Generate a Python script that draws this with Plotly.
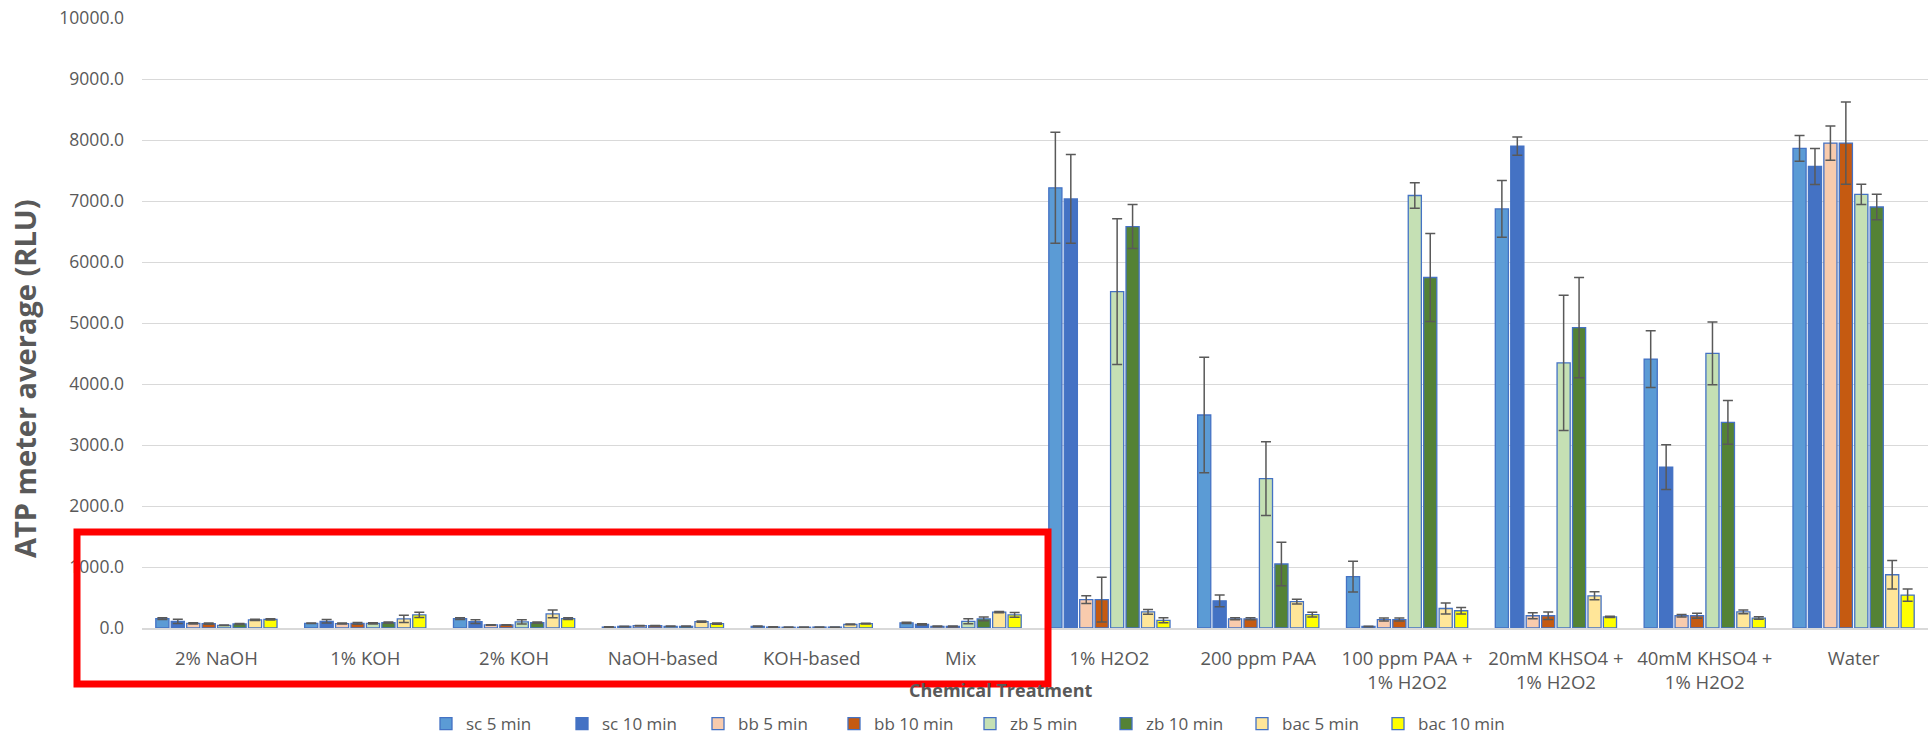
import plotly.graph_objects as go

categories = ["2% NaOH", "1% KOH", "2% KOH", "NaOH-based", "KOH-based", "Mix",
              "1% H2O2", "200 ppm PAA", "100 ppm PAA +<br>1% H2O2",
              "20mM KHSO4 +<br>1% H2O2", "40mM KHSO4 +<br>1% H2O2", "Water"]

series_names = ["sc 5 min", "sc 10 min", "bb 5 min", "bb 10 min",
                "zb 5 min", "zb 10 min", "bac 5 min", "bac 10 min"]

sc5 = [154, 77, 154, 15, 27, 83, 7216, 3492, 842, 6870, 4409, 7863]
sc5_err = [15, 5, 15, 5, 5, 10, 910, 948, 251, 465, 465, 210]
sc10 = [110, 110, 105, 25, 15, 60, 7034, 446, 25, 7900, 2638, 7567]
sc10_err = [35, 30, 30, 5, 5, 10, 728, 97, 5, 150, 367, 295]
bb5 = [77, 72, 50, 38, 12, 27, 465, 151, 138, 201, 201, 7950]
bb5_err = [10, 8, 5, 5, 3, 5, 63, 15, 25, 50, 20, 280]
bb10 = [72, 77, 50, 38, 12, 27, 465, 151, 138, 201, 201, 7950]
bb10_err = [10, 15, 5, 5, 3, 5, 365, 15, 25, 60, 40, 675]
zb5 = [44, 77, 99, 28, 15, 110, 5514, 2449, 7090, 4346, 4503, 7109]
zb5_err = [5, 10, 35, 5, 3, 40, 1196, 603, 210, 1108, 515, 166]
zb10 = [66, 88, 88, 28, 15, 149, 6581, 1049, 5746, 4924, 3372, 6902]
zb10_err = [8, 10, 10, 5, 3, 30, 361, 358, 722, 823, 358, 210]
bac5 = [132, 149, 231, 105, 60, 259, 264, 433, 320, 528, 264, 873]
bac5_err = [10, 60, 65, 10, 5, 10, 38, 38, 91, 66, 31, 232]
bac10 = [143, 215, 154, 72, 72, 215, 126, 220, 283, 182, 163, 540]
bac10_err = [10, 42, 15, 10, 5, 40, 40, 40, 55, 10, 20, 100]

values = [sc5, sc10, bb5, bb10, zb5, zb10, bac5, bac10]
errors = [sc5_err, sc10_err, bb5_err, bb10_err, zb5_err, zb10_err, bac5_err, bac10_err]
colors = ["#5B9BD5", "#4472C4", "#F8CBAD", "#C55A11",
          "#C5E0B4", "#548235", "#FFE699", "#FFFF00"]

TXT = "#595959"
FONT = "Open Sans"

W, H = 1932, 734
L, R, T, B = 142, 4, 18, 106
PW, PH = W - L - R, H - T - B


def px_x(p):
    return (p - L) / PW


def px_y(p):
    return (H - B - p) / PH


fig = go.Figure()
for name, vals, errs, col in zip(series_names, values, errors, colors):
    fig.add_trace(go.Bar(
        name=name, x=categories, y=vals,
        marker=dict(color=col, line=dict(color="#4472C4", width=1.3)),
        error_y=dict(type="data", array=errs, visible=True,
                     color="#595959", thickness=1.5, width=5),
    ))

fig.update_layout(
    width=W, height=H,
    margin=dict(l=L, r=R, t=T, b=B, autoexpand=False),
    paper_bgcolor="white", plot_bgcolor="white",
    barmode="group", bargap=0.17, bargroupgap=0.15,
    font=dict(family=FONT, color=TXT),
    showlegend=True,
    legend=dict(orientation="h", x=px_x(426), y=px_y(724),
                xanchor="left", yanchor="middle",
                font=dict(family=FONT, size=17, color=TXT),
                entrywidth=91, entrywidthmode="pixels",
                bgcolor="rgba(0,0,0,0)"),
    xaxis=dict(showgrid=False, showline=True, linecolor="#D9D9D9", linewidth=1.5,
               tickfont=dict(family=FONT, size=18.5, color=TXT),
               ticks="", ticklabelstandoff=13, tickangle=0),
    yaxis=dict(range=[0, 10000], dtick=1000, tickformat=".1f",
               showgrid=True, gridcolor="#D9D9D9", gridwidth=1,
               zeroline=False, showline=False, ticks="",
               tickfont=dict(family=FONT, size=17.5, color=TXT),
               ticklabelstandoff=17),
    annotations=[
        dict(text="<b>ATP meter average (RLU)</b>", xref="paper", yref="paper",
             x=px_x(24), y=px_y(379), textangle=-90, showarrow=False,
             xanchor="center", yanchor="middle",
             font=dict(family=FONT, size=29, color=TXT)),
        dict(text="<b>Chemical Treatment</b>", xref="paper", yref="paper",
             x=px_x(1000), y=px_y(690), showarrow=False,
             xanchor="center", yanchor="middle",
             font=dict(family=FONT, size=18, color=TXT)),
    ],
    shapes=[
        dict(type="rect", xref="paper", yref="paper",
             x0=px_x(77), x1=px_x(1048), y0=px_y(684), y1=px_y(532),
             line=dict(color="#FF0000", width=7), fillcolor="rgba(0,0,0,0)",
             layer="above"),
    ],
)

fig.write_html(
    "out.html",
    config={"displayModeBar": False},
    post_script="document.body.style.margin='0';document.body.style.padding='0';"
                "document.body.style.overflow='hidden';",
)
